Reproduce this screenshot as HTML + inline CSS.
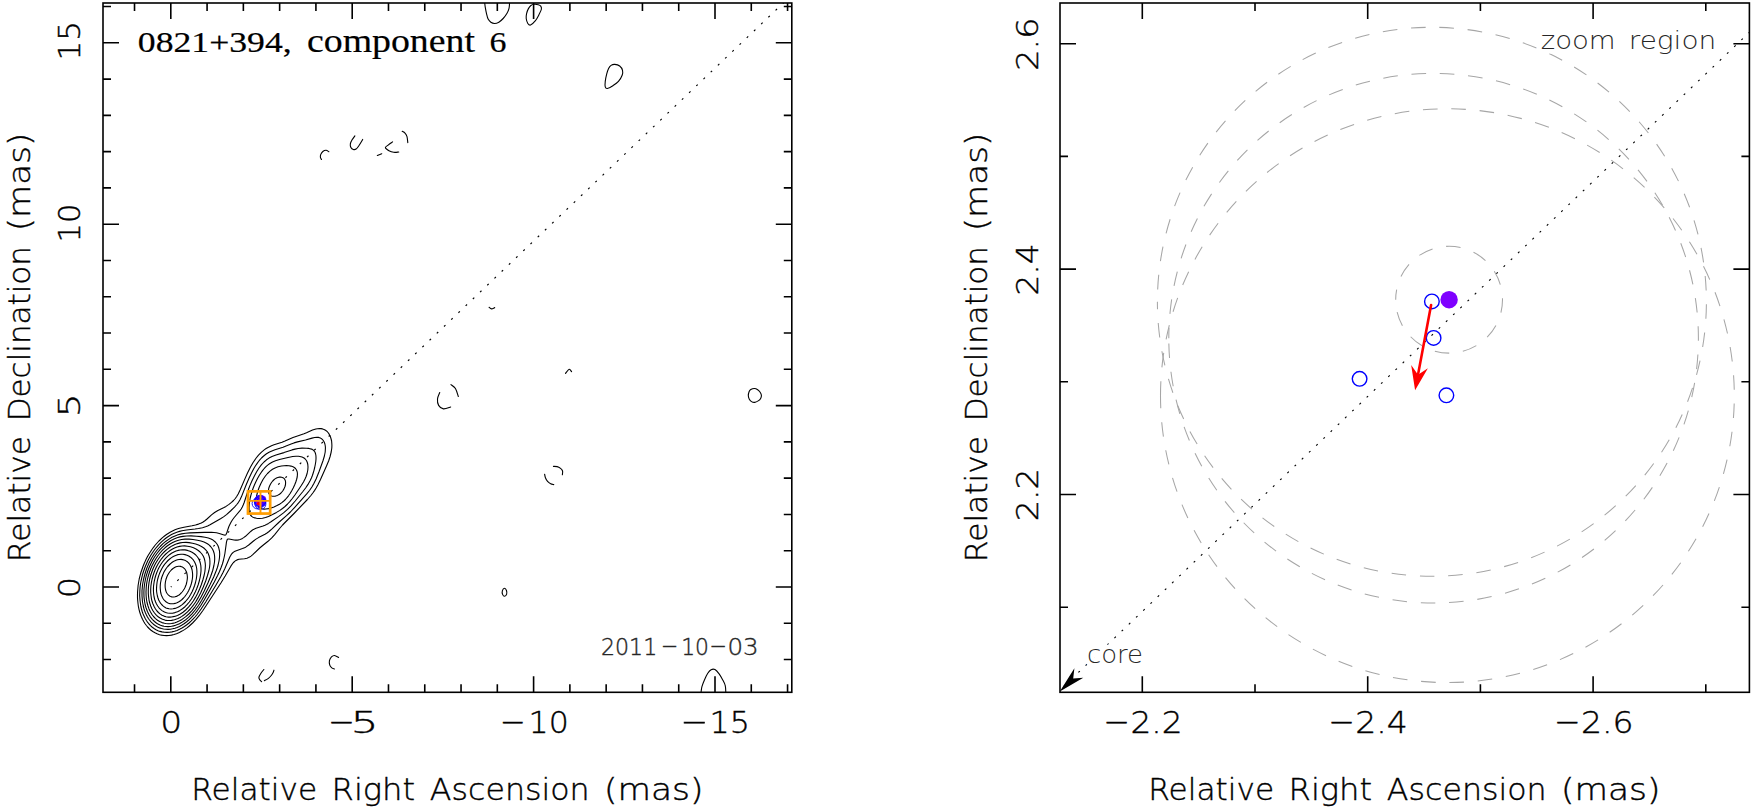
<!DOCTYPE html>
<html lang="en"><head><meta charset="utf-8"><title>0821+394, component 6</title>
<style>html,body{margin:0;padding:0;background:#fff}svg{display:block}</style></head>
<body>
<svg width="1753" height="811" viewBox="0 0 1753 811">
<rect width="1753" height="811" fill="#fff"/>
<defs><clipPath id="cl"><rect x="103.00" y="3.00" width="688.80" height="689.30"/></clipPath>
<clipPath id="cr"><rect x="1060.00" y="3.00" width="689.40" height="689.30"/></clipPath></defs>
<g clip-path="url(#cl)" fill="none" stroke="#000" stroke-width="1.1" stroke-linejoin="round" stroke-linecap="round">
<path d="M315.9,429.0 317.5,428.7 319.5,428.5 321.0,428.6 322.5,428.9 324.0,429.4 325.5,430.2 327.0,431.4 328.0,432.5 329.0,433.9 329.9,435.5 330.5,437.0 331.1,439.0 331.6,441.0 331.8,443.5 331.9,445.5 331.8,448.0 331.2,452.0 330.1,456.5 328.6,461.0 326.5,466.0 320.5,479.5 317.8,485.0 316.1,488.0 314.5,490.6 312.8,493.0 310.9,495.5 307.4,499.5 294.0,513.5 285.0,522.5 282.6,525.0 280.0,528.0 274.5,534.8 271.5,538.1 268.0,541.3 262.1,546.0 259.7,548.0 252.5,554.9 251.0,556.1 249.6,557.0 248.5,557.6 247.0,558.2 244.5,558.7 239.0,559.3 237.0,559.9 236.0,560.4 235.0,561.1 233.5,562.5 232.5,563.7 231.0,565.9 225.2,576.0 220.9,583.0 205.9,606.0 202.9,610.5 199.5,615.2 196.0,619.4 192.6,623.0 189.3,626.0 187.0,627.9 184.5,629.6 182.0,631.1 179.4,632.5 176.5,633.7 174.0,634.5 171.5,635.1 169.0,635.5 166.5,635.6 164.0,635.5 161.5,635.1 159.5,634.7 157.0,633.8 155.0,632.8 152.8,631.5 150.7,630.0 149.1,628.5 147.6,627.0 146.4,625.5 144.9,623.5 143.7,621.5 142.5,619.3 141.5,617.0 140.5,614.5 139.7,612.0 139.0,609.3 138.4,606.5 138.0,603.5 137.7,600.5 137.5,597.5 137.5,594.5 137.6,591.5 138.1,585.5 138.6,582.5 139.2,579.0 140.0,575.8 140.9,572.5 143.0,566.5 144.2,563.5 145.5,560.6 147.0,557.6 148.4,555.0 151.6,550.0 153.5,547.3 155.3,545.0 158.9,541.0 162.5,537.6 164.5,536.0 166.5,534.5 168.5,533.2 170.5,532.0 172.5,531.0 175.0,529.8 177.0,529.1 179.5,528.3 184.0,527.2 192.0,525.8 195.5,525.0 198.5,524.1 201.3,523.0 203.1,522.0 205.2,520.5 207.0,519.0 211.5,514.9 214.6,512.5 217.9,510.5 223.5,507.8 226.0,506.4 229.0,504.4 231.5,502.4 233.5,500.5 235.3,498.5 236.7,496.5 238.2,494.0 240.1,490.0 245.0,478.6 247.5,473.0 250.5,467.0 253.1,462.5 255.8,458.5 258.5,455.1 261.5,452.1 264.5,449.6 266.1,448.5 268.0,447.4 271.5,445.7 274.0,444.8 282.0,442.2 285.0,441.0 293.0,437.5 296.0,436.4 304.0,433.8 306.5,432.8 312.5,430.1Z"/>
<path d="M314.6,437.5 317.0,437.3 318.5,437.4 319.5,437.7 320.5,438.1 321.5,438.7 322.5,439.6 323.3,440.5 324.0,441.7 324.5,442.8 324.9,444.0 325.2,445.5 325.4,447.0 325.4,448.5 325.2,452.0 324.4,456.0 322.9,461.0 318.9,472.0 316.1,479.0 314.0,483.3 311.9,487.0 309.5,490.5 306.5,494.2 294.5,507.6 290.4,512.0 286.5,515.7 278.7,522.5 272.0,528.9 269.0,531.5 267.0,533.0 265.0,534.3 258.5,537.6 256.0,539.1 253.5,541.0 248.7,545.0 246.0,546.9 244.5,547.7 242.5,548.6 237.0,550.4 235.0,551.2 233.5,552.1 232.0,553.5 231.0,554.9 229.8,557.0 224.9,568.5 223.0,572.5 220.9,576.5 216.0,585.0 205.7,602.0 201.1,609.0 199.0,612.0 197.1,614.5 195.0,617.0 193.0,619.2 191.0,621.2 189.0,623.0 186.5,625.0 184.4,626.5 182.0,628.0 179.5,629.3 177.0,630.4 174.5,631.3 172.0,631.9 169.5,632.3 167.0,632.4 164.5,632.3 162.0,631.9 160.0,631.4 158.0,630.7 156.0,629.7 154.0,628.5 152.0,627.0 150.5,625.6 149.0,624.0 147.5,622.1 146.4,620.5 145.2,618.5 144.0,616.1 143.0,613.7 142.2,611.5 141.5,609.0 140.9,606.5 140.5,604.0 140.1,601.0 139.9,598.5 139.7,595.5 139.9,590.0 140.1,587.0 140.5,584.0 141.0,581.0 141.7,578.0 142.4,575.0 143.3,572.0 145.3,566.5 147.7,561.0 149.0,558.5 150.7,555.5 152.3,553.0 154.0,550.5 155.5,548.5 157.5,546.1 159.5,543.9 161.5,541.9 163.5,540.1 165.4,538.5 167.5,537.0 169.5,535.7 171.5,534.6 173.7,533.5 177.5,532.0 179.5,531.4 182.0,530.8 186.5,530.0 195.0,529.0 198.5,528.5 202.5,527.7 205.5,526.8 207.6,526.0 210.0,524.8 220.5,518.8 223.5,516.9 226.5,514.6 230.5,511.0 234.5,507.1 236.8,504.5 238.5,502.3 240.0,499.7 241.5,496.6 246.1,485.0 249.0,478.2 251.5,473.0 254.0,468.3 255.5,465.8 257.0,463.6 258.5,461.5 260.0,459.7 261.5,458.0 263.1,456.5 264.9,455.0 266.5,453.8 269.5,452.0 272.5,450.7 275.0,449.8 283.0,447.2 291.1,444.0 294.0,442.9 297.5,441.9 305.5,440.0 312.0,438.1Z"/>
<path d="M298.1,448.5 302.0,448.1 306.5,448.2 308.5,448.4 310.0,448.7 311.5,449.1 312.5,449.6 313.5,450.3 314.2,451.0 314.9,452.0 315.3,453.0 315.6,454.0 315.9,455.5 316.0,457.0 316.0,459.0 315.8,461.5 315.3,464.5 314.7,467.5 314.0,470.3 313.2,473.0 312.4,475.5 311.4,478.0 310.2,480.5 308.0,484.4 305.6,488.0 302.9,491.5 295.2,501.0 291.0,505.9 287.5,509.4 283.5,512.9 278.5,516.6 271.0,521.8 268.5,523.4 266.5,524.5 265.0,525.2 263.0,526.0 256.0,528.2 253.5,529.4 252.5,530.0 251.0,531.2 245.5,536.3 244.0,537.4 242.5,538.4 241.3,539.0 240.0,539.5 238.5,539.9 237.0,540.1 235.5,540.1 234.0,540.0 229.0,539.0 228.0,539.0 227.5,539.3 227.0,540.1 226.5,541.9 224.9,553.5 224.2,557.0 223.4,560.5 222.4,564.0 221.1,567.5 219.5,571.5 217.6,575.5 214.3,582.0 209.6,590.5 204.2,600.0 200.5,606.0 197.5,610.3 194.6,614.0 191.5,617.4 188.5,620.3 186.4,622.0 184.0,623.8 182.0,625.0 179.5,626.4 177.0,627.5 175.0,628.2 172.5,628.8 170.5,629.2 168.0,629.4 166.0,629.3 163.5,629.0 161.5,628.5 159.5,627.9 157.5,626.9 155.5,625.8 153.8,624.5 152.5,623.4 151.0,621.8 149.5,620.0 148.4,618.5 147.2,616.5 146.2,614.5 145.3,612.5 144.5,610.5 143.9,608.5 143.3,606.0 142.8,603.5 142.4,601.0 142.0,596.0 142.0,590.5 142.5,585.0 143.5,579.5 144.9,574.0 146.7,568.5 149.0,563.1 151.5,558.3 154.5,553.5 157.5,549.5 160.2,546.5 163.0,543.7 166.0,541.2 169.0,539.1 172.0,537.3 175.0,535.9 178.0,534.8 181.5,533.9 185.5,533.3 190.0,532.9 204.5,532.4 211.5,532.4 214.0,532.5 216.5,532.8 219.3,533.5 224.0,535.0 225.0,535.1 225.5,535.0 226.0,534.6 226.5,533.6 228.2,528.5 228.9,526.5 230.1,524.0 231.4,521.5 232.7,519.5 234.2,517.5 240.0,510.7 241.2,509.0 242.3,507.0 243.2,505.0 244.2,502.5 247.1,493.5 248.5,489.3 250.0,485.4 251.9,481.0 254.5,475.7 256.8,471.5 259.0,468.0 261.5,464.7 264.0,462.0 266.5,459.8 269.0,458.1 272.0,456.5 276.0,455.0 284.0,452.6 292.0,449.9 295.0,449.1Z"/>
<path d="M292.7,456.5 296.0,456.2 298.5,456.2 301.0,456.7 302.0,457.0 303.1,457.5 304.0,458.0 305.0,458.8 305.6,459.5 306.4,460.5 306.9,461.5 307.3,462.5 307.8,464.5 308.0,467.0 307.8,470.0 307.1,473.5 306.1,476.5 305.0,479.0 303.5,482.0 301.3,485.5 298.3,490.0 294.9,495.0 292.3,498.5 290.0,501.4 287.6,504.0 285.0,506.5 282.5,508.5 279.5,510.6 276.5,512.4 272.5,514.5 268.5,516.4 265.5,517.5 262.5,518.3 259.5,518.5 258.0,518.5 256.5,518.3 254.0,517.6 253.0,517.2 252.0,516.6 250.8,515.5 250.0,514.1 249.5,512.5 249.2,510.5 249.1,507.5 249.3,504.5 249.6,501.5 250.2,498.0 251.0,494.8 252.0,491.5 253.0,488.5 254.4,485.0 256.0,481.5 257.5,478.5 259.2,475.5 261.0,472.7 262.5,470.6 263.8,469.0 265.0,467.6 266.5,466.1 268.0,464.9 269.5,463.8 272.5,462.0 275.5,460.7 279.5,459.5 288.0,457.5Z"/>
<path d="M186.7,536.0 191.0,535.9 196.5,536.2 201.0,536.6 205.0,537.2 208.4,538.0 211.0,539.0 213.0,540.1 215.0,541.7 216.6,543.5 217.3,544.5 218.0,545.8 218.8,548.0 219.5,551.0 219.7,554.0 219.5,557.5 219.0,561.0 218.1,565.0 217.4,567.5 216.3,570.5 213.7,577.0 210.1,584.5 205.2,594.0 201.6,600.5 198.5,605.5 195.2,610.0 192.0,613.9 188.5,617.4 185.0,620.3 181.5,622.6 179.5,623.7 177.5,624.6 175.5,625.3 173.5,625.9 171.5,626.3 170.0,626.5 168.0,626.6 166.0,626.5 164.0,626.2 162.5,625.9 160.0,625.0 158.5,624.3 157.1,623.5 155.7,622.5 154.5,621.5 152.5,619.6 150.5,617.1 148.9,614.5 147.4,611.5 146.1,608.0 145.1,604.5 144.5,601.0 144.0,597.0 143.9,593.0 144.0,589.0 144.5,584.5 145.3,580.0 146.2,576.0 147.5,571.8 149.0,567.8 150.7,564.0 152.7,560.0 155.0,556.3 157.3,553.0 160.0,549.7 162.5,547.1 165.0,544.8 168.0,542.5 171.0,540.5 174.0,539.0 177.0,537.8 180.0,536.9 183.0,536.4Z"/>
<path d="M281.4,466.0 284.0,465.7 286.5,465.6 289.0,465.7 291.0,466.1 293.0,466.8 294.3,467.5 295.5,468.5 296.5,470.0 297.1,471.5 297.4,473.0 297.4,475.0 297.2,477.0 296.6,479.5 295.8,482.0 294.6,485.0 293.2,488.0 291.6,491.0 290.1,493.5 288.5,495.8 287.0,497.7 285.4,499.5 283.5,501.3 281.5,502.9 279.5,504.2 277.0,505.6 274.0,506.9 271.0,508.0 268.5,508.6 266.0,509.0 264.0,509.1 262.0,508.8 260.5,508.2 259.5,507.5 258.9,507.0 258.1,506.0 257.5,505.0 257.0,503.8 256.7,502.5 256.5,501.0 256.4,499.0 256.5,497.5 256.7,495.5 257.2,493.5 257.7,491.5 259.1,487.5 261.0,483.2 263.0,479.5 265.4,476.0 267.5,473.5 270.0,471.1 272.5,469.3 275.0,467.9 278.0,466.8Z"/>
<path d="M181.6,539.5 185.0,539.1 189.0,539.1 193.0,539.5 197.5,540.2 201.0,541.0 204.0,542.0 206.5,543.2 207.8,544.0 209.0,544.9 210.6,546.5 212.1,548.5 212.7,549.5 213.4,551.0 214.2,553.5 214.6,556.0 214.7,559.0 214.5,562.0 213.9,565.5 212.7,570.5 210.6,576.5 207.9,583.0 204.2,591.0 201.1,597.0 198.0,602.3 195.0,606.8 192.0,610.6 188.8,614.0 185.5,616.9 182.0,619.4 180.1,620.5 178.5,621.3 176.9,622.0 175.0,622.7 173.5,623.1 171.5,623.5 169.5,623.7 168.0,623.7 166.0,623.5 164.5,623.3 162.0,622.6 159.6,621.5 157.5,620.2 155.5,618.6 153.5,616.5 152.0,614.5 150.5,612.0 149.0,608.9 148.0,606.0 147.0,602.5 146.4,599.0 146.1,595.5 146.0,592.0 146.2,588.0 146.5,584.5 147.2,580.5 148.0,577.0 149.2,573.0 150.5,569.3 152.0,565.8 153.7,562.5 155.7,559.0 157.7,556.0 160.0,553.0 162.5,550.2 165.0,547.8 167.5,545.8 170.1,544.0 172.7,542.5 175.5,541.2 178.5,540.2Z"/>
<path d="M277.8,477.5 279.5,477.1 280.5,477.0 281.5,477.2 283.0,477.7 284.0,478.4 284.5,479.0 285.0,479.9 285.3,480.5 285.5,481.5 285.6,482.5 285.5,484.5 285.0,486.5 284.0,488.9 282.7,491.0 281.0,493.0 279.5,494.2 277.5,495.4 275.5,496.1 273.5,496.3 272.5,496.2 271.5,496.0 270.5,495.5 269.9,495.0 269.1,494.0 268.7,493.0 268.4,491.5 268.5,490.0 268.7,488.5 269.2,487.0 269.8,485.5 270.6,484.0 271.5,482.5 272.7,481.0 273.7,480.0 275.0,478.9 276.5,478.0Z"/>
<path d="M182.7,542.5 186.0,542.4 189.0,542.6 192.5,543.2 195.7,544.0 198.5,545.0 201.5,546.5 203.8,548.0 205.5,549.6 207.1,551.5 208.2,553.5 209.1,556.0 209.7,558.5 209.9,561.0 209.9,564.0 209.6,567.0 208.9,570.5 207.5,575.5 205.7,581.0 203.3,587.0 200.6,593.0 198.0,597.9 195.6,602.0 193.0,605.7 190.3,609.0 187.5,611.9 184.5,614.5 181.5,616.6 180.0,617.5 178.0,618.5 176.5,619.1 174.5,619.8 171.5,620.4 169.5,620.5 168.0,620.5 166.5,620.4 165.0,620.1 162.5,619.3 160.5,618.3 158.5,617.0 156.5,615.3 154.5,613.0 153.1,611.0 151.7,608.5 150.7,606.0 149.7,603.0 149.0,600.0 148.6,597.0 148.3,593.5 148.3,590.0 148.5,586.5 149.0,582.6 149.7,579.0 150.6,575.5 151.8,572.0 153.0,568.8 154.5,565.5 156.1,562.5 158.0,559.5 160.1,556.5 162.5,553.7 164.6,551.5 167.0,549.4 169.5,547.5 172.0,545.9 174.9,544.5 177.5,543.6 180.0,542.9Z"/>
<path d="M182.0,546.0 184.5,545.9 187.5,546.2 190.5,546.8 193.5,547.8 196.0,549.0 198.3,550.5 200.1,552.0 201.9,554.0 203.2,556.0 204.1,558.0 204.8,560.5 205.2,563.0 205.4,565.5 205.2,568.5 204.9,571.5 204.2,575.0 203.0,579.5 201.4,584.5 199.6,589.0 197.6,593.5 195.5,597.4 193.3,601.0 191.0,604.2 188.5,607.2 185.7,610.0 183.0,612.2 180.3,614.0 177.5,615.4 174.5,616.4 171.5,617.0 170.0,617.1 168.5,617.1 166.0,616.7 164.0,616.1 162.0,615.2 160.0,613.9 158.4,612.5 157.0,611.0 155.5,609.0 154.1,606.5 153.0,604.0 152.1,601.5 151.4,598.5 151.0,595.5 150.7,592.5 150.7,589.5 150.9,586.0 151.4,582.5 152.0,579.5 152.9,576.0 153.9,573.0 155.0,570.0 156.4,567.0 158.0,564.0 159.6,561.5 161.5,558.8 163.5,556.4 165.8,554.0 168.0,552.1 170.1,550.5 172.5,549.0 174.5,548.0 177.0,547.0 179.5,546.4Z"/>
<path d="M180.1,550.0 182.5,549.8 185.0,549.9 187.5,550.4 190.0,551.2 192.0,552.2 194.0,553.5 195.8,555.0 197.5,557.0 198.8,559.0 199.7,561.0 200.3,563.0 200.8,565.5 201.0,568.0 201.0,571.0 200.7,574.0 200.1,577.5 199.3,581.0 198.1,585.0 196.6,589.0 195.0,592.6 193.2,596.0 191.4,599.0 189.3,602.0 187.0,604.7 185.0,606.7 182.5,608.7 180.0,610.4 177.5,611.7 175.0,612.6 172.5,613.2 170.0,613.3 167.5,613.0 165.6,612.5 164.0,611.8 162.0,610.6 160.5,609.4 159.0,607.8 157.7,606.0 156.5,604.0 155.6,602.0 154.7,599.5 154.1,597.0 153.7,594.5 153.5,592.0 153.4,589.5 153.5,586.5 153.9,583.5 154.3,581.0 155.0,578.0 155.9,575.0 157.0,572.0 158.0,569.6 159.3,567.0 160.8,564.5 162.5,562.0 164.0,560.1 165.5,558.4 167.5,556.4 169.5,554.7 171.5,553.3 173.9,552.0 176.0,551.1 178.0,550.4Z"/>
<path d="M178.7,554.5 181.0,554.2 183.0,554.2 185.0,554.6 187.0,555.2 188.7,556.0 190.5,557.2 192.0,558.5 193.5,560.2 194.6,562.0 195.5,564.0 196.2,566.0 196.7,568.5 196.9,571.0 196.9,573.5 196.7,576.0 196.3,579.0 195.5,582.5 194.6,585.5 193.5,588.5 192.2,591.5 190.6,594.5 189.1,597.0 187.5,599.2 185.5,601.5 183.5,603.5 181.5,605.1 179.5,606.5 177.5,607.5 175.0,608.4 173.0,608.8 171.0,609.0 169.0,608.8 167.5,608.4 166.0,607.9 164.5,607.1 163.0,605.9 161.6,604.5 160.5,603.1 159.5,601.5 158.7,600.0 158.0,598.0 157.4,596.0 157.0,594.0 156.6,591.5 156.5,589.5 156.6,587.0 156.8,584.5 157.1,582.0 157.6,579.5 158.3,577.0 159.0,574.9 160.0,572.3 161.0,570.2 162.2,568.0 163.5,565.9 165.0,563.8 166.5,562.1 168.0,560.5 169.7,559.0 171.5,557.6 173.3,556.5 175.0,555.7 177.0,554.9Z"/>
<path d="M179.0,559.5 181.0,559.4 182.5,559.6 184.0,560.0 185.5,560.6 187.0,561.5 188.0,562.4 189.1,563.5 190.1,565.0 190.9,566.5 191.5,568.0 192.1,570.0 192.4,572.0 192.6,574.0 192.6,576.5 192.4,578.5 192.0,581.0 191.4,583.5 190.6,586.0 189.6,588.5 188.7,590.5 187.5,592.7 186.3,594.5 185.0,596.3 183.5,598.0 182.0,599.5 180.5,600.7 178.5,602.0 177.0,602.7 175.0,603.4 173.5,603.7 171.5,603.8 170.0,603.6 168.5,603.2 167.5,602.7 166.3,602.0 165.1,601.0 164.0,599.8 163.0,598.5 162.5,597.5 161.8,596.0 161.2,594.5 160.7,592.5 160.5,591.0 160.3,589.0 160.2,587.0 160.3,585.0 160.5,583.0 160.9,581.0 161.3,579.0 161.9,577.0 162.7,575.0 163.5,573.1 164.5,571.1 165.5,569.5 166.5,568.0 167.7,566.5 170.1,564.0 171.5,562.8 173.0,561.8 174.5,560.9 176.0,560.3 177.5,559.8Z"/>
<path d="M177.1,566.5 178.5,566.3 179.5,566.3 180.5,566.4 181.5,566.7 182.5,567.1 183.5,567.8 184.5,568.7 185.2,569.5 186.0,570.9 186.5,572.0 187.1,574.5 187.3,576.0 187.4,577.5 187.3,579.0 187.0,581.0 186.6,583.0 186.2,584.5 185.0,587.5 184.2,589.0 183.2,590.5 182.1,592.0 181.2,593.0 180.0,594.2 179.0,595.0 178.0,595.6 176.5,596.4 175.0,596.8 174.0,597.0 173.0,597.0 172.0,596.9 171.0,596.6 170.0,596.2 168.5,595.1 167.5,594.0 166.8,593.0 166.3,592.0 165.6,590.0 165.2,587.5 165.1,585.0 165.4,582.0 166.0,579.3 167.0,576.5 168.0,574.5 169.6,572.0 171.3,570.0 173.0,568.5 175.0,567.3 176.0,566.8Z"/>
<path d="M484.66,2.47C484.76,3.29 484.97,5.55 485.28,7.40C485.59,9.25 486.04,11.61 486.51,13.56C486.98,15.52 487.39,17.67 488.11,19.11C488.83,20.55 489.76,21.48 490.83,22.19C491.89,22.91 493.19,23.43 494.53,23.43C495.86,23.43 497.40,23.02 498.84,22.19C500.28,21.37 501.82,19.93 503.16,18.50C504.49,17.06 505.87,15.31 506.86,13.56C507.84,11.82 508.62,9.86 509.08,8.01C509.53,6.17 509.49,3.39 509.57,2.47"/>
<path d="M533.98,4.32C535.22,4.17 537.17,4.38 538.30,4.69C539.43,4.99 540.25,5.40 540.76,6.17C541.28,6.93 541.69,7.81 541.38,9.25C541.07,10.69 539.94,12.84 538.91,14.80C537.89,16.75 536.61,19.26 535.22,20.96C533.82,22.67 531.76,24.62 530.53,25.03C529.30,25.44 528.54,24.52 527.82,23.43C527.10,22.34 526.42,20.14 526.21,18.50C526.01,16.85 526.21,15.21 526.58,13.56C526.95,11.92 527.71,9.97 528.43,8.63C529.15,7.30 529.98,6.27 530.90,5.55C531.82,4.83 532.75,4.46 533.98,4.32Z"/>
<path d="M614.75,64.36C616.19,64.47 618.38,64.98 619.68,65.97C620.97,66.95 622.10,68.74 622.52,70.28C622.93,71.82 622.82,73.37 622.15,75.22C621.47,77.07 619.99,79.63 618.45,81.38C616.91,83.13 614.75,84.50 612.90,85.70C611.05,86.89 608.62,88.33 607.35,88.53C606.07,88.74 605.60,88.12 605.25,86.93C604.90,85.74 605.01,83.54 605.25,81.38C605.50,79.22 606.18,76.14 606.73,73.98C607.29,71.82 607.86,69.87 608.58,68.43C609.30,67.00 610.02,66.03 611.05,65.35C612.08,64.67 613.31,64.26 614.75,64.36Z"/>
<path d="M328.85,151.71C328.39,151.47 327.05,150.30 326.05,150.26C325.05,150.22 323.74,150.73 322.84,151.47C321.95,152.20 321.08,153.67 320.68,154.67C320.28,155.67 320.30,156.68 320.44,157.48C320.57,158.28 321.31,159.15 321.48,159.48"/>
<path d="M354.90,135.84C354.43,136.51 352.86,138.51 352.10,139.85C351.33,141.18 350.53,142.58 350.33,143.85C350.13,145.12 350.40,146.52 350.89,147.46C351.39,148.39 352.43,149.20 353.30,149.46C354.17,149.73 355.10,149.80 356.10,149.06C357.11,148.33 358.21,146.66 359.31,145.06C360.40,143.45 362.11,140.38 362.68,139.44"/>
<path d="M377.34,155.47 L381.75,153.71"/>
<path d="M392.57,141.85C391.84,142.38 389.36,144.08 388.16,145.06C386.96,146.03 385.22,146.77 385.36,147.70C385.49,148.64 387.56,149.90 388.96,150.67C390.37,151.43 392.14,152.04 393.77,152.27C395.40,152.50 397.91,152.07 398.74,152.03"/>
<path d="M402.19,131.27C402.66,131.56 404.19,132.14 404.99,133.03C405.79,133.93 406.53,135.04 407.00,136.64C407.46,138.24 407.66,141.65 407.80,142.65"/>
<path d="M489.09,307.30C489.49,307.57 490.56,308.85 491.50,308.91C492.43,308.96 494.17,307.84 494.70,307.63"/>
<path d="M565.52,373.32C566.14,372.65 568.19,369.58 569.21,369.31C570.22,369.05 571.21,371.32 571.61,371.72"/>
<path d="M439.74,392.55C439.37,393.62 437.68,396.82 437.50,398.96C437.31,401.09 437.63,403.71 438.62,405.37C439.61,407.02 441.42,408.62 443.43,408.89C445.43,409.16 449.44,407.29 450.64,406.97"/>
<path d="M450.96,384.54C451.71,385.20 454.22,386.54 455.44,388.54C456.67,390.54 457.85,395.22 458.33,396.55"/>
<path d="M553.43,466.34C554.05,466.39 556.00,466.34 557.13,466.65C558.26,466.96 559.31,467.47 560.22,468.19C561.12,468.91 562.20,469.89 562.56,470.97C562.92,472.04 562.40,474.05 562.37,474.67"/>
<path d="M544.61,474.23C544.75,474.82 544.92,476.55 545.42,477.75C545.91,478.95 546.70,480.44 547.57,481.45C548.45,482.46 549.63,483.26 550.66,483.79C551.69,484.33 553.23,484.51 553.74,484.65"/>
<path d="M754.48,388.56C755.63,388.60 756.74,389.18 757.69,389.80C758.63,390.41 759.54,391.36 760.15,392.26C760.77,393.17 761.30,394.19 761.39,395.22C761.47,396.25 761.18,397.48 760.65,398.43C760.11,399.37 759.17,400.24 758.18,400.89C757.19,401.55 755.84,402.25 754.73,402.37C753.62,402.50 752.43,402.17 751.52,401.63C750.62,401.10 749.84,400.15 749.30,399.17C748.77,398.18 748.36,396.95 748.32,395.72C748.28,394.48 748.65,392.80 749.06,391.77C749.47,390.74 749.88,390.08 750.78,389.55C751.69,389.02 753.33,388.52 754.48,388.56Z"/>
<path d="M504.54,588.28C505.22,588.25 506.11,589.52 506.46,590.50C506.81,591.49 506.96,593.25 506.65,594.20C506.34,595.16 505.29,596.21 504.61,596.24C503.94,596.27 502.95,595.31 502.58,594.39C502.21,593.46 502.07,591.71 502.39,590.69C502.72,589.67 503.86,588.31 504.54,588.28Z"/>
<path d="M263.85,669.50C263.37,670.12 261.76,671.93 260.94,673.23C260.11,674.53 259.07,676.17 258.90,677.30C258.73,678.43 259.47,679.28 259.92,680.01C260.37,680.75 261.33,681.43 261.62,681.71"/>
<path d="M264.33,680.69C264.95,680.35 266.87,679.56 268.06,678.66C269.25,677.75 270.60,676.28 271.45,675.27C272.30,674.25 272.73,673.40 273.15,672.55C273.56,671.71 273.82,670.58 273.96,670.18"/>
<path d="M338.59,657.50C337.91,657.16 335.71,655.55 334.52,655.46C333.34,655.37 332.32,656.08 331.47,656.95C330.62,657.83 329.72,659.33 329.44,660.68C329.15,662.04 329.38,663.91 329.77,665.09C330.17,666.28 331.04,667.15 331.81,667.81C332.58,668.46 333.96,668.82 334.39,669.03"/>
<path d="M701.10,691.90C701.24,691.02 701.38,688.62 701.93,686.63C702.49,684.64 703.46,682.19 704.43,679.97C705.40,677.75 706.65,675.02 707.76,673.31C708.87,671.60 709.89,670.33 711.09,669.71C712.29,669.08 713.63,668.85 714.97,669.54C716.31,670.23 717.84,672.13 719.13,673.87C720.43,675.61 721.72,678.03 722.74,679.97C723.76,681.91 724.73,683.53 725.24,685.52C725.75,687.51 725.70,690.84 725.79,691.90"/>
</g>
<line x1="170.80" y1="587.00" x2="870.80" y2="-80.45" stroke="#000" stroke-width="1.15" stroke-dasharray="2 7.96" stroke-dashoffset="1.00" clip-path="url(#cl)"/>
<circle cx="260.49" cy="500.91" r="6.1" fill="#7f00ff"/>
<circle cx="259.94" cy="500.97" r="5.5" fill="none" stroke="#0000ff" stroke-width="0.9"/>
<circle cx="259.99" cy="502.14" r="5.5" fill="none" stroke="#0000ff" stroke-width="0.9"/>
<circle cx="257.61" cy="503.46" r="5.5" fill="none" stroke="#0000ff" stroke-width="0.9"/>
<circle cx="260.41" cy="503.99" r="5.5" fill="none" stroke="#0000ff" stroke-width="0.9"/>
<ellipse cx="258.6" cy="503.6" rx="1.9" ry="1.6" fill="#ff0000"/>
<rect x="247.97" y="491.37" width="22.20" height="22.19" fill="none" stroke="#ff9d00" stroke-width="2.7"/>
<path d="M260.49,491.37V513.55M247.97,500.91H270.16" stroke="#ff9d00" stroke-width="1.9" fill="none"/>
<path d="M134.52,692.30v-8.00M134.52,3.00v8.00M170.80,692.30v-16.00M170.80,3.00v16.00M207.08,692.30v-8.00M207.08,3.00v8.00M243.36,692.30v-8.00M243.36,3.00v8.00M279.64,692.30v-8.00M279.64,3.00v8.00M315.92,692.30v-8.00M315.92,3.00v8.00M352.20,692.30v-16.00M352.20,3.00v16.00M388.48,692.30v-8.00M388.48,3.00v8.00M424.76,692.30v-8.00M424.76,3.00v8.00M461.04,692.30v-8.00M461.04,3.00v8.00M497.32,692.30v-8.00M497.32,3.00v8.00M533.60,692.30v-16.00M533.60,3.00v16.00M569.88,692.30v-8.00M569.88,3.00v8.00M606.16,692.30v-8.00M606.16,3.00v8.00M642.44,692.30v-8.00M642.44,3.00v8.00M678.72,692.30v-8.00M678.72,3.00v8.00M715.00,692.30v-16.00M715.00,3.00v16.00M751.28,692.30v-8.00M751.28,3.00v8.00M787.56,692.30v-8.00M787.56,3.00v8.00M103.00,659.56h8.00M791.80,659.56h-8.00M103.00,623.28h8.00M791.80,623.28h-8.00M103.00,587.00h16.00M791.80,587.00h-16.00M103.00,550.72h8.00M791.80,550.72h-8.00M103.00,514.44h8.00M791.80,514.44h-8.00M103.00,478.16h8.00M791.80,478.16h-8.00M103.00,441.88h8.00M791.80,441.88h-8.00M103.00,405.60h16.00M791.80,405.60h-16.00M103.00,369.32h8.00M791.80,369.32h-8.00M103.00,333.04h8.00M791.80,333.04h-8.00M103.00,296.76h8.00M791.80,296.76h-8.00M103.00,260.48h8.00M791.80,260.48h-8.00M103.00,224.20h16.00M791.80,224.20h-16.00M103.00,187.92h8.00M791.80,187.92h-8.00M103.00,151.64h8.00M791.80,151.64h-8.00M103.00,115.36h8.00M791.80,115.36h-8.00M103.00,79.08h8.00M791.80,79.08h-8.00M103.00,42.80h16.00M791.80,42.80h-16.00M103.00,6.52h8.00M791.80,6.52h-8.00" stroke="#000" stroke-width="1.60" fill="none"/>
<rect x="103.00" y="3.00" width="688.80" height="689.30" fill="none" stroke="#000" stroke-width="1.60"/>
<g clip-path="url(#cr)" fill="none" stroke="#a6a6a6" stroke-width="1.05">
<path d="M1157.40,301.80A274.50,274.50 0 1 1 1706.40,301.80A274.50,274.50 0 1 1 1157.40,301.80" stroke-dasharray="14.6 13.8" stroke-dashoffset="15.9"/>
<path d="M1168.80,338.20A264.80,264.80 0 1 1 1698.40,338.20A264.80,264.80 0 1 1 1168.80,338.20" stroke-dasharray="14.6 13.8" stroke-dashoffset="4.0"/>
<path d="M1160.50,395.70A286.90,286.90 0 1 1 1734.30,395.70A286.90,286.90 0 1 1 1160.50,395.70" stroke-dasharray="14.6 13.8" stroke-dashoffset="0.0"/>
<path d="M1395.70,299.70A53.40,53.40 0 1 1 1502.50,299.70A53.40,53.40 0 1 1 1395.70,299.70" stroke-dasharray="14.6 13.8" stroke-dashoffset="4.5"/>
</g>
<line x1="1060.00" y1="690.00" x2="1760.00" y2="22.20" stroke="#000" stroke-width="1.15" stroke-dasharray="2 7.96" stroke-dashoffset="-5.50" clip-path="url(#cr)"/>
<circle cx="1449.10" cy="299.70" r="8.7" fill="#7f00ff"/>
<circle cx="1431.90" cy="301.40" r="7.3" fill="none" stroke="#0000ff" stroke-width="1.4"/>
<circle cx="1433.60" cy="337.90" r="7.3" fill="none" stroke="#0000ff" stroke-width="1.4"/>
<circle cx="1359.60" cy="378.80" r="7.3" fill="none" stroke="#0000ff" stroke-width="1.4"/>
<circle cx="1446.40" cy="395.30" r="7.3" fill="none" stroke="#0000ff" stroke-width="1.4"/>
<line x1="1431.10" y1="305.10" x2="1417.98" y2="374.87" stroke="#ff0000" stroke-width="2.60" stroke-linecap="round"/>
<path d="M1415.10,390.20L1411.18,365.04L1417.98,374.87L1427.89,368.18Z" fill="#ff0000"/>
<path d="M1059.8,691.5L1074.4,668.3L1073.2,678.4L1083.3,677.8Z" fill="#000"/>
<path d="M1142.30,692.30v-16.00M1142.30,3.00v16.00M1255.00,692.30v-8.00M1255.00,3.00v8.00M1367.70,692.30v-16.00M1367.70,3.00v16.00M1480.40,692.30v-8.00M1480.40,3.00v8.00M1593.10,692.30v-16.00M1593.10,3.00v16.00M1705.80,692.30v-8.00M1705.80,3.00v8.00M1060.00,43.70h16.00M1749.40,43.70h-16.00M1060.00,156.40h8.00M1749.40,156.40h-8.00M1060.00,269.10h16.00M1749.40,269.10h-16.00M1060.00,381.80h8.00M1749.40,381.80h-8.00M1060.00,494.50h16.00M1749.40,494.50h-16.00M1060.00,607.20h8.00M1749.40,607.20h-8.00" stroke="#000" stroke-width="1.60" fill="none"/>
<rect x="1060.00" y="3.00" width="689.40" height="689.30" fill="none" stroke="#000" stroke-width="1.60"/>
<text font-family='"DejaVu Sans Light", "DejaVu Sans", "Liberation Sans", sans-serif' font-size="30.90" fill="#000" stroke="#000" stroke-width="0.4"><tspan x="191.33" y="800.40" textLength="125.76" lengthAdjust="spacingAndGlyphs">Relative</tspan> <tspan x="331.54" y="800.40" textLength="83.60" lengthAdjust="spacingAndGlyphs">Right</tspan> <tspan x="429.86" y="800.40" textLength="159.82" lengthAdjust="spacingAndGlyphs">Ascension</tspan> <tspan x="604.07" y="800.40" textLength="99.41" lengthAdjust="spacingAndGlyphs">(mas)</tspan></text>
<text font-family='"DejaVu Sans Light", "DejaVu Sans", "Liberation Sans", sans-serif' font-size="30.90" fill="#000" transform="rotate(-90)" stroke="#000" stroke-width="0.4"><tspan x="-562.19" y="30.30" textLength="126.17" lengthAdjust="spacingAndGlyphs">Relative</tspan> <tspan x="-421.35" y="30.30" textLength="175.29" lengthAdjust="spacingAndGlyphs">Declination</tspan> <tspan x="-231.22" y="30.30" textLength="98.41" lengthAdjust="spacingAndGlyphs">(mas)</tspan></text>
<text font-family='"DejaVu Sans Light", "DejaVu Sans", "Liberation Sans", sans-serif' font-size="30.90" fill="#000" stroke="#000" stroke-width="0.4"><tspan x="1148.33" y="800.40" textLength="125.76" lengthAdjust="spacingAndGlyphs">Relative</tspan> <tspan x="1288.54" y="800.40" textLength="83.60" lengthAdjust="spacingAndGlyphs">Right</tspan> <tspan x="1386.86" y="800.40" textLength="159.82" lengthAdjust="spacingAndGlyphs">Ascension</tspan> <tspan x="1561.07" y="800.40" textLength="99.41" lengthAdjust="spacingAndGlyphs">(mas)</tspan></text>
<text font-family='"DejaVu Sans Light", "DejaVu Sans", "Liberation Sans", sans-serif' font-size="30.90" fill="#000" transform="rotate(-90)" stroke="#000" stroke-width="0.4"><tspan x="-562.19" y="987.30" textLength="126.17" lengthAdjust="spacingAndGlyphs">Relative</tspan> <tspan x="-421.35" y="987.30" textLength="175.29" lengthAdjust="spacingAndGlyphs">Declination</tspan> <tspan x="-231.22" y="987.30" textLength="98.41" lengthAdjust="spacingAndGlyphs">(mas)</tspan></text>
<text font-family='"DejaVu Sans Light", "DejaVu Sans", "Liberation Sans", sans-serif' font-size="30.90" fill="#000" stroke="#000" stroke-width="0.4"><tspan x="160.23" y="733.40" textLength="21.99" lengthAdjust="spacingAndGlyphs">0</tspan></text>
<text font-family='"DejaVu Sans Light", "DejaVu Sans", "Liberation Sans", sans-serif' font-size="30.90" fill="#000" stroke="#000" stroke-width="0.4"><tspan x="328.10" y="730.80" textLength="26.91" lengthAdjust="spacingAndGlyphs">-</tspan><tspan x="350.59" y="733.40" textLength="28.12" lengthAdjust="spacingAndGlyphs">5</tspan></text>
<text font-family='"DejaVu Sans Light", "DejaVu Sans", "Liberation Sans", sans-serif' font-size="30.90" fill="#000" stroke="#000" stroke-width="0.4"><tspan x="499.77" y="730.80" textLength="25.98" lengthAdjust="spacingAndGlyphs">-</tspan><tspan x="528.60" y="733.40" textLength="40.16" lengthAdjust="spacingAndGlyphs">10</tspan></text>
<text font-family='"DejaVu Sans Light", "DejaVu Sans", "Liberation Sans", sans-serif' font-size="30.90" fill="#000" stroke="#000" stroke-width="0.4"><tspan x="680.63" y="730.80" textLength="27.53" lengthAdjust="spacingAndGlyphs">-</tspan><tspan x="709.51" y="733.40" textLength="40.32" lengthAdjust="spacingAndGlyphs">15</tspan></text>
<text font-family='"DejaVu Sans Light", "DejaVu Sans", "Liberation Sans", sans-serif' font-size="30.90" fill="#000" stroke="#000" stroke-width="0.4"><tspan x="1103.31" y="730.80" textLength="26.71" lengthAdjust="spacingAndGlyphs">-</tspan><tspan x="1130.49" y="733.40" textLength="51.99" lengthAdjust="spacingAndGlyphs">2.2</tspan></text>
<text font-family='"DejaVu Sans Light", "DejaVu Sans", "Liberation Sans", sans-serif' font-size="30.90" fill="#000" stroke="#000" stroke-width="0.4"><tspan x="1328.38" y="730.80" textLength="26.60" lengthAdjust="spacingAndGlyphs">-</tspan><tspan x="1355.20" y="733.40" textLength="52.43" lengthAdjust="spacingAndGlyphs">2.4</tspan></text>
<text font-family='"DejaVu Sans Light", "DejaVu Sans", "Liberation Sans", sans-serif' font-size="30.90" fill="#000" stroke="#000" stroke-width="0.4"><tspan x="1554.03" y="730.80" textLength="26.60" lengthAdjust="spacingAndGlyphs">-</tspan><tspan x="1580.92" y="733.40" textLength="52.58" lengthAdjust="spacingAndGlyphs">2.6</tspan></text>
<text font-family='"DejaVu Sans Light", "DejaVu Sans", "Liberation Sans", sans-serif' font-size="30.90" fill="#000" transform="rotate(-90)" stroke="#000" stroke-width="0.4"><tspan x="-60.45" y="80.00" textLength="39.27" lengthAdjust="spacingAndGlyphs">15</tspan></text>
<text font-family='"DejaVu Sans Light", "DejaVu Sans", "Liberation Sans", sans-serif' font-size="30.90" fill="#000" transform="rotate(-90)" stroke="#000" stroke-width="0.4"><tspan x="-242.44" y="80.00" textLength="38.71" lengthAdjust="spacingAndGlyphs">10</tspan></text>
<text font-family='"DejaVu Sans Light", "DejaVu Sans", "Liberation Sans", sans-serif' font-size="30.90" fill="#000" transform="rotate(-90)" stroke="#000" stroke-width="0.4"><tspan x="-417.18" y="80.00" textLength="23.80" lengthAdjust="spacingAndGlyphs">5</tspan></text>
<text font-family='"DejaVu Sans Light", "DejaVu Sans", "Liberation Sans", sans-serif' font-size="30.90" fill="#000" transform="rotate(-90)" stroke="#000" stroke-width="0.4"><tspan x="-598.33" y="80.00" textLength="21.40" lengthAdjust="spacingAndGlyphs">0</tspan></text>
<text font-family='"DejaVu Sans Light", "DejaVu Sans", "Liberation Sans", sans-serif' font-size="30.90" fill="#000" transform="rotate(-90)" stroke="#000" stroke-width="0.4"><tspan x="-70.71" y="1038.10" textLength="53.23" lengthAdjust="spacingAndGlyphs">2.6</tspan></text>
<text font-family='"DejaVu Sans Light", "DejaVu Sans", "Liberation Sans", sans-serif' font-size="30.90" fill="#000" transform="rotate(-90)" stroke="#000" stroke-width="0.4"><tspan x="-295.47" y="1038.10" textLength="52.08" lengthAdjust="spacingAndGlyphs">2.4</tspan></text>
<text font-family='"DejaVu Sans Light", "DejaVu Sans", "Liberation Sans", sans-serif' font-size="30.90" fill="#000" transform="rotate(-90)" stroke="#000" stroke-width="0.4"><tspan x="-521.37" y="1038.10" textLength="53.29" lengthAdjust="spacingAndGlyphs">2.2</tspan></text>
<text font-family='"Liberation Serif", serif' font-size="29.00" fill="#000" stroke="#000" stroke-width="0.2"><tspan x="137.86" y="52.20" textLength="153.78" lengthAdjust="spacingAndGlyphs">0821+394,</tspan> <tspan x="306.99" y="52.20" font-size="33.00" textLength="167.93" lengthAdjust="spacingAndGlyphs">component</tspan> <tspan x="489.59" y="52.20" textLength="16.91" lengthAdjust="spacingAndGlyphs">6</tspan></text>
<text font-family='"DejaVu Sans Light", "DejaVu Sans", "Liberation Sans", sans-serif' font-size="23.00" fill="#262626" stroke="#262626" stroke-width="0.4"><tspan x="601.07" y="654.80" textLength="56.13" lengthAdjust="spacingAndGlyphs">2011</tspan><tspan x="661.04" y="652.80" textLength="17.13" lengthAdjust="spacingAndGlyphs">-</tspan><tspan x="681.22" y="654.80" textLength="27.76" lengthAdjust="spacingAndGlyphs">10</tspan><tspan x="709.46" y="652.80" textLength="17.35" lengthAdjust="spacingAndGlyphs">-</tspan><tspan x="727.52" y="654.80" textLength="31.16" lengthAdjust="spacingAndGlyphs">03</tspan></text>
<text font-family='"DejaVu Sans Light", "DejaVu Sans", "Liberation Sans", sans-serif' font-size="24.60" fill="#262626" stroke="#fff" stroke-width="9" paint-order="stroke" stroke-linejoin="round"><tspan x="1540.73" y="49.20" textLength="74.95" lengthAdjust="spacingAndGlyphs">zoom</tspan> <tspan x="1628.76" y="49.20" textLength="87.48" lengthAdjust="spacingAndGlyphs">region</tspan></text>
<text font-family='"DejaVu Sans Light", "DejaVu Sans", "Liberation Sans", sans-serif' font-size="24.60" fill="#262626" stroke="#fff" stroke-width="9" paint-order="stroke" stroke-linejoin="round"><tspan x="1086.93" y="662.90" textLength="56.05" lengthAdjust="spacingAndGlyphs">core</tspan></text>
</svg>
</body></html>
